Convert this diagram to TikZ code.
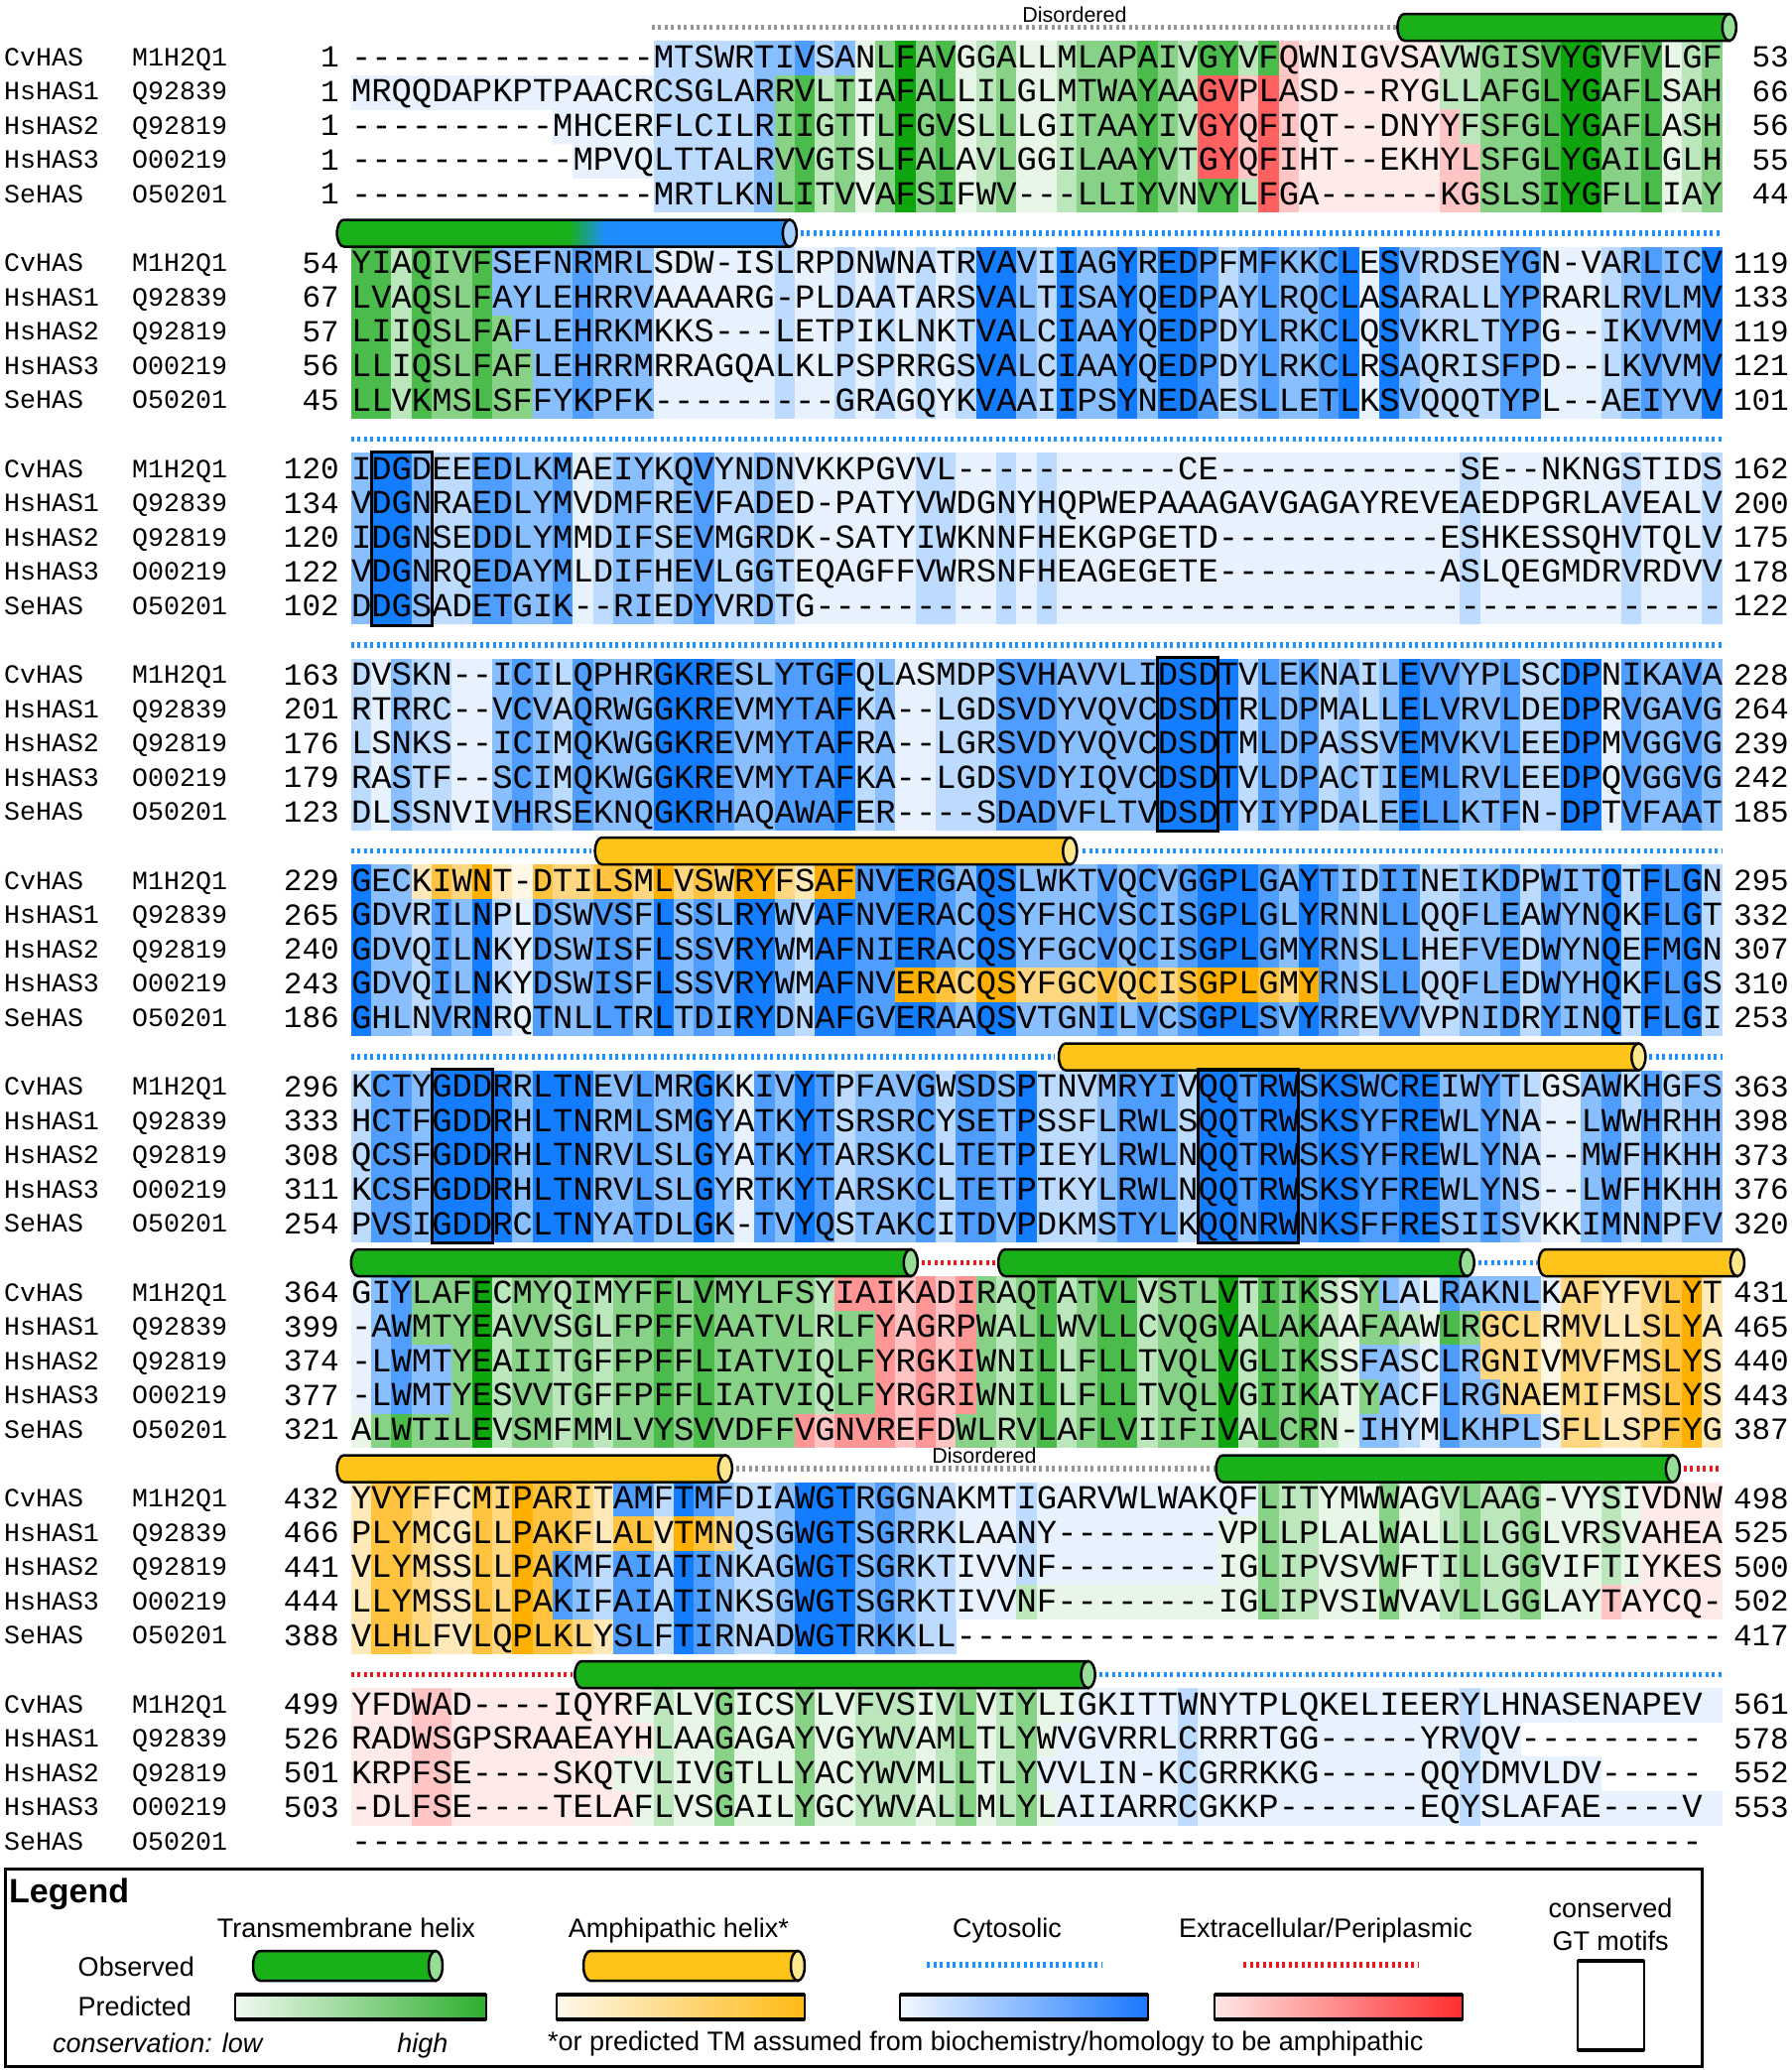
\documentclass[tikz,border=0pt]{standalone}
\usepackage{fontspec}
\newfontfamily\seqfont{Liberation Mono}[Ligatures=TeXOff]
\newfontfamily\lgfont{Liberation Sans}
\definecolor{hueb}{RGB}{20,125,255}
\definecolor{hueg}{RGB}{15,165,15}
\definecolor{huey}{RGB}{255,175,0}
\definecolor{huer}{RGB}{255,45,45}
\definecolor{cylg}{RGB}{25,176,25}
\definecolor{cylgend}{RGB}{150,222,150}
\definecolor{cyly}{RGB}{255,196,25}
\definecolor{cylyend}{RGB}{255,232,140}
\definecolor{cylb}{RGB}{30,140,255}
\definecolor{cylbend}{RGB}{165,208,255}
\definecolor{dotb}{RGB}{30,144,255}
\definecolor{dotr}{RGB}{235,25,25}
\definecolor{dotgr}{RGB}{150,150,150}
\definecolor{leggr}{RGB}{45,175,45}
\definecolor{legye}{RGB}{255,185,20}
\definecolor{legbl}{RGB}{25,120,255}
\definecolor{legre}{RGB}{255,45,45}

\ExplSyntaxOn
\int_new:N \l__hs_max_int
\int_new:N \l__hs_cnt_int
\int_new:N \l__hs_id_int
\int_new:N \l__hs_sim_int
\int_new:N \l__hs_col_int
\int_new:N \l__hs_len_int
\bool_new:N \l__hs_gap_bool
\tl_new:N \l__hs_ci_tl
\tl_new:N \l__hs_cj_tl
\tl_new:N \l__hs_gi_tl
\tl_new:N \l__hs_gj_tl
\tl_new:N \l__hs_c_tl
\tl_new:N \l__hs_i_tl
\tl_new:N \l__hs_j_tl
\tl_new:N \l__hs_hue_tl
\tl_new:N \l__hs_lev_tl
\seq_new:N \g__hs_cons_seq
\str_new:c { g_hs_s1_str }
\str_new:c { g_hs_s2_str }
\str_new:c { g_hs_s3_str }
\str_new:c { g_hs_s4_str }
\str_new:c { g_hs_s5_str }
\cs_new:Npn \gaps #1 { \prg_replicate:nn {#1} {-} }
\cs_new:Npn \__hs_grp:n #1
 {
  \str_case:nnF {#1}
   {
    {I}{h} {L}{h} {V}{h} {M}{h}
    {F}{a} {Y}{a} {W}{a}
    {K}{p} {R}{p} {H}{p}
    {D}{n} {E}{n}
    {S}{s} {T}{s}
    {N}{q} {Q}{q}
   }
   {#1}
 }
\cs_generate_variant:Nn \__hs_grp:n { V }
\cs_new_protected:Npn \__hs_set:nn #1 #2 { \str_gset:cn { g_hs_s #1 _str } {#2} }
\cs_new_protected:Npn \__hs_compute:
 {
  \seq_gclear:N \g__hs_cons_seq
  \int_step_variable:nNn { 68 } \l__hs_c_tl
   {
    \int_zero:N \l__hs_max_int
    \bool_set_false:N \l__hs_gap_bool
    \int_step_variable:nNn { 5 } \l__hs_i_tl
     {
      \tl_set:Nx \l__hs_ci_tl { \str_item:cn { g_hs_s \l__hs_i_tl _str } { \l__hs_c_tl } }
      \str_if_eq:VnTF \l__hs_ci_tl { - }
       { \bool_set_true:N \l__hs_gap_bool }
       {
        \tl_if_empty:NF \l__hs_ci_tl
         {
          \tl_set:Nx \l__hs_gi_tl { \__hs_grp:V \l__hs_ci_tl }
          \int_zero:N \l__hs_id_int
          \int_zero:N \l__hs_sim_int
          \int_step_variable:nNn { 5 } \l__hs_j_tl
           {
            \tl_set:Nx \l__hs_cj_tl { \str_item:cn { g_hs_s \l__hs_j_tl _str } { \l__hs_c_tl } }
            \tl_if_eq:NNT \l__hs_ci_tl \l__hs_cj_tl { \int_incr:N \l__hs_id_int }
            \tl_set:Nx \l__hs_gj_tl { \__hs_grp:V \l__hs_cj_tl }
            \tl_if_eq:NNT \l__hs_gi_tl \l__hs_gj_tl { \int_incr:N \l__hs_sim_int }
           }
          \int_set:Nn \l__hs_cnt_int { \int_max:nn { \l__hs_id_int } { \l__hs_sim_int - 1 } }
          \int_compare:nNnT \l__hs_cnt_int > \l__hs_max_int
           { \int_set_eq:NN \l__hs_max_int \l__hs_cnt_int }
         }
       }
     }
    \bool_if:NT \l__hs_gap_bool { \int_decr:N \l__hs_max_int }
    \int_compare:nNnT \l__hs_max_int < 1 { \int_set:Nn \l__hs_max_int { 1 } }
    \seq_gput_right:Nx \g__hs_cons_seq { \int_use:N \l__hs_max_int }
   }
 }
\cs_new_protected:Npn \__hs_row:nnn #1 #2 #3
 {
  \int_zero:N \l__hs_col_int
  \clist_map_inline:nn { #3 }
   {
    \tl_set:Nx \l__hs_hue_tl { \tl_head:n { ##1 } }
    \int_set:Nn \l__hs_len_int { \tl_tail:n { ##1 } }
    \prg_replicate:nn { \l__hs_len_int }
     {
      \str_if_eq:VnF \l__hs_hue_tl { n }
       {
        \tl_set:Nx \l__hs_lev_tl { \seq_item:Nn \g__hs_cons_seq { \l__hs_col_int + 1 } }
        \use:e { \exp_not:N \mycell {#1} {#2} { \int_use:N \l__hs_col_int } { \l__hs_hue_tl } { \l__hs_lev_tl } }
       }
      \int_incr:N \l__hs_col_int
     }
   }
 }
\NewDocumentCommand \HSBlock { m m m m m }
 {
  \use:e { \exp_not:N \__hs_set:nn {1} {#1} }
  \use:e { \exp_not:N \__hs_set:nn {2} {#2} }
  \use:e { \exp_not:N \__hs_set:nn {3} {#3} }
  \use:e { \exp_not:N \__hs_set:nn {4} {#4} }
  \use:e { \exp_not:N \__hs_set:nn {5} {#5} }
  \__hs_compute:
 }
\NewDocumentCommand \HSBg { m m m } { \__hs_row:nnn {#1} {#2} {#3} }
\NewDocumentCommand \hsseq { m } { \str_use:c { g_hs_s #1 _str } }
\ExplSyntaxOff

\newcommand\mycell[5]{%
  \pgfmathsetmacro\cellx{353.8+#3*20.32}%
  \pgfmathsetmacro\celly{58.5+#1*207.5+#2*34.58-17.29}%
  \edef\cellpct{\ifcase#5 10\or 10\or 28\or 50\or 75\or 100\else 100\fi}%
  \fill[hue#4!\cellpct] (\cellx,\celly) rectangle ++(20.6,34.9);%
}
\newcommand\HSTx[6]{%
  \pgfmathsetmacro\rowy{58.5+#1*207.5+#2*34.58}%
  \node[lab, anchor=base west] (nm-#1-#2) at (4,\rowy+7.6) {#3};
  \node[lab, anchor=base west] (ac-#1-#2) at (133,\rowy+7.6) {#4};
  \node[num, anchor=base east] (st-#1-#2) at (342,\rowy+9) {#5};
  \node[sq, anchor=base west] (sq-#1-#2) at (353.8,\rowy+9.7) {\hsseq{\the\numexpr#2+1\relax}};
  \node[num, anchor=base east] (en-#1-#2) at (1803,\rowy+9) {#6};
}
\newcommand\HSTxAll[6]{%
  \HSTx{#1}{0}{CvHAS}{M1H2Q1}#2
  \HSTx{#1}{1}{HsHAS1}{Q92839}#3
  \HSTx{#1}{2}{HsHAS2}{Q92819}#4
  \HSTx{#1}{3}{HsHAS3}{O00219}#5
  \HSTx{#1}{4}{SeHAS}{O50201}#6
}
\newcommand\cylshape[5]{%
  \path[#1] (#2+7,#4-#5) -- (#3,#4-#5) -- (#3,#4+#5) -- (#2+7,#4+#5)
    arc[start angle=90,end angle=270,x radius=7,y radius=#5] -- cycle;%
}
\newcommand\cylxy[6]{%
  \pgfmathsetmacro\cylxr{#2-7}%
  \cylshape{fill=#5, draw=black, line width=2.5}{#1}{\cylxr}{#3}{#4}%
  \draw[line width=2.5, fill=#6] (\cylxr,#3) ellipse [x radius=7, y radius=#4];%
}
\newcommand\barcyl[5]{%
  \pgfmathsetmacro\bxl{353.8+(#2)*20.32}%
  \pgfmathsetmacro\bxr{353.8+(#3)*20.32}%
  \pgfmathsetmacro\byc{58.5+#1*207.5-31}%
  \cylxy{\bxl}{\bxr}{\byc}{13.5}{#4}{#5}%
}
\newcommand\bardot[4]{%
  \pgfmathsetmacro\dxa{353.8+(#2)*20.32}%
  \pgfmathsetmacro\dxb{353.8+(#3)*20.32}%
  \pgfmathsetmacro\dyc{58.5+#1*207.5-31}%
  \draw[dotline, #4] (\dxa,\dyc) -- (\dxb,\dyc);%
}
\newcommand\gtbox[3]{%
  \pgfmathsetmacro\gyt{58.5+#1*207.5-18.5}%
  \pgfmathsetmacro\gyb{58.5+#1*207.5+4*34.58+18.5}%
  \pgfmathsetmacro\gxa{353.8+#2*20.32}%
  \pgfmathsetmacro\gxb{353.8+(#3+1)*20.32}%
  \draw[line width=3] (\gxa,\gyt) rectangle (\gxb,\gyb);%
}

\begin{document}
\begin{tikzpicture}[x=1pt,y=-1pt,
  sq/.style={inner sep=0pt, font=\seqfont\fontsize{33.87}{40}\selectfont},
  lab/.style={inner sep=0pt, font=\seqfont\fontsize{26.6}{30}\selectfont},
  num/.style={inner sep=0pt, font=\seqfont\fontsize{31}{36}\selectfont},
  lg/.style={inner sep=0pt, font=\lgfont\fontsize{27}{32}\selectfont},
  lgi/.style={inner sep=0pt, font=\lgfont\itshape\fontsize{27}{32}\selectfont},
  lgb/.style={inner sep=0pt, font=\lgfont\bfseries\fontsize{34}{40}\selectfont},
  dis/.style={inner sep=0pt, font=\lgfont\fontsize{21.5}{25}\selectfont},
  dotline/.style={line width=5.5, dash pattern=on 3pt off 3.5pt}]
\useasboundingbox (0,0) rectangle (1805,2086);

% ---------------- block 0
\HSBlock{\gaps{15}MTSWRTIVSANLFAVGGALLMLAPAIVGYVFQWNIGVSAVWGISVYGVFVLGF}
        {MRQQDAPKPTPAACRCSGLARRVLTIAFALLILGLMTWAYAAGVPLASD--RYGLLAFGLYGAFLSAH}
        {\gaps{10}MHCERFLCILRIIGTTLFGVSLLLGITAAYIVGYQFIQT--DNYYFSFGLYGAFLASH}
        {\gaps{11}MPVQLTTALRVVGTSLFALAVLGGILAAYVTGYQFIHT--EKHYLSFGLYGAILGLH}
        {\gaps{15}MRTLKNLITVVAFSIFWV---LLIYVNVYLFGA\gaps{6}KGSLSIYGFLLIAY}
\HSBg{0}{0}{n15,b10,g21,r8,g14}
\HSBg{0}{1}{b21,g21,r12,g14}
\HSBg{0}{2}{n10,b11,g21,r13,g13}
\HSBg{0}{3}{n11,b10,g21,r14,g12}
\HSBg{0}{4}{n15,b6,g24,r11,g12}
\HSTxAll{0}{{1}{53}}{{1}{66}}{{1}{56}}{{1}{55}}{{1}{44}}
\bardot{0}{14.9}{51.9}{dotgr}
\node[dis] (dis-0) at (1083,14.5) {Disordered};
\barcyl{0}{51.9}{68.7}{cylg}{cylgend}

% ---------------- block 1
\HSBlock{YIAQIVFSEFNRMRLSDW-ISLRPDNWNATRVAVIIAGYREDPFMFKKCLESVRDSEYGN-VARLICV}
        {LVAQSLFAYLEHRRVAAAARG-PLDAATARSVALTISAYQEDPAYLRQCLASARALLYPRARLRVLMV}
        {LIIQSLFAFLEHRKMKKS---LETPIKLNKTVALCIAAYQEDPDYLRKCLQSVKRLTYPG--IKVVMV}
        {LLIQSLFAFLEHRRMRRAGQALKLPSPRRGSVALCIAAYQEDPDYLRKCLRSAQRISFPD--LKVVMV}
        {LLVKMSLSFFYKPFK\gaps{9}GRAGQYKVAAIIPSYNEDAESLLETLKSVQQQTYPL--AEIYVV}
\HSBg{1}{0}{g7,b61}
\HSBg{1}{1}{g7,b61}
\HSBg{1}{2}{g8,b60}
\HSBg{1}{3}{g9,b59}
\HSBg{1}{4}{g9,b59}
\HSTxAll{1}{{54}{119}}{{67}{133}}{{57}{119}}{{56}{121}}{{45}{101}}
\pgfmathsetmacro\gyc{58.5+207.5-31}
\begin{scope}
  \cylshape{clip}{339.6}{795.9}{\gyc}{13.5}
  \fill[cylg] (330,\gyc-16) rectangle (573.3,\gyc+16);
  \shade[left color=cylg, right color=cylb] (573.2,\gyc-16) rectangle (609.9,\gyc+16);
  \fill[cylb] (609.8,\gyc-16) rectangle (805,\gyc+16);
\end{scope}
\cylshape{draw=black, line width=2.5}{339.6}{795.9}{\gyc}{13.5}
\draw[line width=2.5, fill=cylbend] (795.9,\gyc) ellipse [x radius=7, y radius=13.5];
\bardot{1}{22.3}{67.9}{dotb}

% ---------------- block 2
\HSBlock{IDGDEEEDLKMAEIYKQVYNDNVKKPGVVL\gaps{11}CE\gaps{12}SE--NKNGSTIDS}
        {VDGNRAEDLYMVDMFREVFADED-PATYVWDGNYHQPWEPAAAGAVGAGAYREVEAEDPGRLAVEALV}
        {IDGNSEDDLYMMDIFSEVMGRDK-SATYIWKNNFHEKGPGETD\gaps{11}ESHKESSQHVTQLV}
        {VDGNRQEDAYMLDIFHEVLGGTEQAGFFVWRSNFHEAGEGETE\gaps{11}ASLQEGMDRVRDVV}
        {DDGSADETGIK--RIEDYVRDTG\gaps{45}}
\HSBg{2}{0}{b68}
\HSBg{2}{1}{b68}
\HSBg{2}{2}{b68}
\HSBg{2}{3}{b68}
\HSBg{2}{4}{b68}
\HSTxAll{2}{{120}{162}}{{134}{200}}{{120}{175}}{{122}{178}}{{102}{122}}
\bardot{2}{0}{68}{dotb}
\gtbox{2}{1}{3}

% ---------------- block 3
\HSBlock{DVSKN--ICILQPHRGKRESLYTGFQLASMDPSVHAVVLIDSDTVLEKNAILEVVYPLSCDPNIKAVA}
        {RTRRC--VCVAQRWGGKREVMYTAFKA--LGDSVDYVQVCDSDTRLDPMALLELVRVLDEDPRVGAVG}
        {LSNKS--ICIMQKWGGKREVMYTAFRA--LGRSVDYVQVCDSDTMLDPASSVEMVKVLEEDPMVGGVG}
        {RASTF--SCIMQKWGGKREVMYTAFKA--LGDSVDYIQVCDSDTVLDPACTIEMLRVLEEDPQVGGVG}
        {DLSSNVIVHRSEKNQGKRHAQAWAFER----SDADVFLTVDSDTYIYPDALEELLKTFN-DPTVFAAT}
\HSBg{3}{0}{b68}
\HSBg{3}{1}{b68}
\HSBg{3}{2}{b68}
\HSBg{3}{3}{b68}
\HSBg{3}{4}{b68}
\HSTxAll{3}{{163}{228}}{{201}{264}}{{176}{239}}{{179}{242}}{{123}{185}}
\bardot{3}{0}{68}{dotb}
\gtbox{3}{40}{42}

% ---------------- block 4
\HSBlock{GECKIWNT-DTILSMLVSWRYFSAFNVERGAQSLWKTVQCVGGPLGAYTIDIINEIKDPWITQTFLGN}
        {GDVRILNPLDSWVSFLSSLRYWVAFNVERACQSYFHCVSCISGPLGLYRNNLLQQFLEAWYNQKFLGT}
        {GDVQILNKYDSWISFLSSVRYWMAFNIERACQSYFGCVQCISGPLGMYRNSLLHEFVEDWYNQEFMGN}
        {GDVQILNKYDSWISFLSSVRYWMAFNVERACQSYFGCVQCISGPLGMYRNSLLQQFLEDWYHQKFLGS}
        {GHLNVRNRQTNLLTRLTDIRYDNAFGVERAAQSVTGNILVCSGPLSVYRREVVVPNIDRYINQTFLGI}
\HSBg{4}{0}{b3,y22,b43}
\HSBg{4}{1}{b68}
\HSBg{4}{2}{b68}
\HSBg{4}{3}{b27,y21,b20}
\HSBg{4}{4}{b68}
\HSTxAll{4}{{229}{295}}{{265}{332}}{{240}{307}}{{243}{310}}{{186}{253}}
\bardot{4}{0}{11.9}{dotb}
\barcyl{4}{12.1}{36.0}{cyly}{cylyend}
\bardot{4}{36.3}{68}{dotb}

% ---------------- block 5
\HSBlock{KCTYGDDRRLTNEVLMRGKKIVYTPFAVGWSDSPTNVMRYIVQQTRWSKSWCREIWYTLGSAWKHGFS}
        {HCTFGDDRHLTNRMLSMGYATKYTSRSRCYSETPSSFLRWLSQQTRWSKSYFREWLYNA--LWWHRHH}
        {QCSFGDDRHLTNRVLSLGYATKYTARSKCLTETPIEYLRWLNQQTRWSKSYFREWLYNA--MWFHKHH}
        {KCSFGDDRHLTNRVLSLGYRTKYTARSKCLTETPTKYLRWLNQQTRWSKSYFREWLYNS--LWFHKHH}
        {PVSIGDDRCLTNYATDLGK-TVYQSTAKCITDVPDKMSTYLKQQNRWNKSFFRESIISVKKIMNNPFV}
\HSBg{5}{0}{b68}
\HSBg{5}{1}{b68}
\HSBg{5}{2}{b68}
\HSBg{5}{3}{b68}
\HSBg{5}{4}{b68}
\HSTxAll{5}{{296}{363}}{{333}{398}}{{308}{373}}{{311}{376}}{{254}{320}}
\bardot{5}{0}{34.9}{dotb}
\barcyl{5}{35.1}{64.2}{cyly}{cylyend}
\bardot{5}{64.4}{68}{dotb}
\gtbox{5}{4}{6}
\gtbox{5}{42}{46}

% ---------------- block 6
\HSBlock{GIYLAFECMYQIMYFFLVMYLFSYIAIKADIRAQTATVLVSTLVTIIKSSYLALRAKNLKAFYFVLYT}
        {-AWMTYEAVVSGLFPFFVAATVLRLFYAGRPWALLWVLLCVQGVALAKAAFAAWLRGCLRMVLLSLYA}
        {-LWMTYEAIITGFFPFFLIATVIQLFYRGKIWNILLFLLTVQLVGLIKSSFASCLRGNIVMVFMSLYS}
        {-LWMTYESVVTGFFPFFLIATVIQLFYRGRIWNILLFLLTVQLVGIIKATYACFLRGNAEMIFMSLYS}
        {ALWTILEVSMFMMLVYSVVDFFVGNVREFDWLRVLAFLVIIFIVALCRN-IHYMLKHPLSFLLSPFYG}
\HSBg{6}{0}{b3,g21,r7,g20,b9,y8}
\HSBg{6}{1}{b3,g23,r5,g25,y12}
\HSBg{6}{2}{b5,g21,r5,g19,b6,y12}
\HSBg{6}{3}{b5,g21,r5,g20,b6,y11}
\HSBg{6}{4}{g22,r8,g20,b10,y8}
\HSTxAll{6}{{364}{431}}{{399}{465}}{{374}{440}}{{377}{443}}{{321}{387}}
\barcyl{6}{0}{28.1}{cylg}{cylgend}
\bardot{6}{28.3}{32.0}{dotr}
\barcyl{6}{32.1}{55.7}{cylg}{cylgend}
\bardot{6}{55.9}{58.8}{dotb}
\barcyl{6}{58.9}{69.1}{cyly}{cylyend}

% ---------------- block 7
\HSBlock{YVYFFCMIPARITAMFTMFDIAWGTRGGNAKMTIGARVWLWAKQFLITYMWWAGVLAAG-VYSIVDNW}
        {PLYMCGLLPAKFLALVTMNQSGWGTSGRRKLAANY\gaps{8}VPLLPLALWALLLLGGLVRSVAHEA}
        {VLYMSSLLPAKMFAIATINKAGWGTSGRKTIVVNF\gaps{8}IGLIPVSVWFTILLGGVIFTIYKES}
        {LLYMSSLLPAKIFAIATINKSGWGTSGRKTIVVNF\gaps{8}IGLIPVSIWVAVLLGGLAYTAYCQ-}
        {VLHLFVLQPLKLYSLFTIRNADWGTRKKLL\gaps{38}}
\HSBg{7}{0}{y13,b32,g19,r4}
\HSBg{7}{1}{y19,b24,g21,r4}
\HSBg{7}{2}{y10,b33,g21,r4}
\HSBg{7}{3}{y10,b23,g29,r6}
\HSBg{7}{4}{y13,b17,n38}
\HSTxAll{7}{{432}{498}}{{466}{525}}{{441}{500}}{{444}{502}}{{388}{417}}
\barcyl{7}{-0.7}{18.9}{cyly}{cylyend}
\bardot{7}{19.1}{42.8}{dotgr}
\node[dis] (dis-7) at (992,1467) {Disordered};
\barcyl{7}{42.9}{65.9}{cylg}{cylgend}
\bardot{7}{66.1}{68}{dotr}

% ---------------- block 8
\HSBlock{YFDWAD----IQYRFALVGICSYLVFVSIVLVIYLIGKITTWNYTPLQKELIEERYLHNASENAPEV}
        {RADWSGPSRAAEAYHLAAGAGAYVGYWVAMLTLYWVGVRRLCRRRTGG\gaps{5}YRVQV\gaps{9}}
        {KRPFSE----SKQTVLIVGTLLYACYWVMLLTLYVVLIN-KCGRRKKG\gaps{5}QQYDMVLDV\gaps{5}}
        {-DLFSE----TELAFLVSGAILYGCYWVALLMLYLAIIARRCGKKP\gaps{7}EQYSLAFAE----V}
        {\gaps{67}}
\HSBg{8}{0}{r14,g22,b32}
\HSBg{8}{1}{r15,g20,b23,n10}
\HSBg{8}{2}{r13,g21,b28,n6}
\HSBg{8}{3}{r14,g21,b33}
\HSTxAll{8}{{499}{561}}{{526}{578}}{{501}{552}}{{503}{553}}{{}{}}
\bardot{8}{0}{11.0}{dotr}
\barcyl{8}{11.1}{36.9}{cylg}{cylgend}
\bardot{8}{37.1}{68}{dotb}

% ---------------- legend
\draw[line width=3] (5,1883) rectangle (1715,2082);
\node[lgb, anchor=base west] (leg) at (9,1917) {Legend};
\node[lg, anchor=base] (h-tm) at (349,1952) {Transmembrane helix};
\node[lg, anchor=base] (h-am) at (684,1952) {Amphipathic helix*};
\node[lg, anchor=base] (h-cy) at (1015,1952) {Cytosolic};
\node[lg, anchor=base] (h-ex) at (1336,1952) {Extracellular/Periplasmic};
\node[lg, anchor=base] (h-gt1) at (1623,1932) {conserved};
\node[lg, anchor=base] (h-gt2) at (1623,1965) {GT motifs};
\node[lg, anchor=base east] (obs) at (196,1991) {Observed};
\node[lg, anchor=base east] (pred) at (193,2031) {Predicted};
\node[lgi, anchor=base west] (cons) at (53,2068) {conservation: low};
\node[lgi, anchor=base] (high) at (426,2068) {high};
\node[lg, anchor=base west] (foot) at (552,2066) {*or predicted TM assumed from biochemistry/homology to be amphipathic};
\cylxy{255}{446}{1981}{15}{cylg}{cylgend}
\cylxy{588}{811}{1981}{15}{cyly}{cylyend}
\draw[dotline, dotb] (934,1980) -- (1111,1980);
\draw[dotline, dotr] (1253,1980) -- (1430,1980);
\shade[left color=hueg!6, right color=leggr] (237,2010) rectangle (490,2035);
\shade[left color=huey!8, right color=legye] (561,2010) rectangle (811,2035);
\shade[left color=hueb!5, right color=legbl] (907,2010) rectangle (1157,2035);
\shade[left color=huer!12, right color=legre] (1224,2010) rectangle (1474,2035);
\foreach \xa/\xb in {237/490, 561/811, 907/1157, 1224/1474}{
  \draw[line width=1.5] (\xa,2010) rectangle (\xb,2035);
  \draw[line width=4] (\xa,2010) -- (\xb,2010) (\xa,2035) -- (\xb,2035);
}
\draw[line width=2] (1590,1976) rectangle (1657,2066);
\draw[line width=4] (1590,1976) -- (1657,1976) (1590,2066) -- (1657,2066);
\end{tikzpicture}
\end{document}
